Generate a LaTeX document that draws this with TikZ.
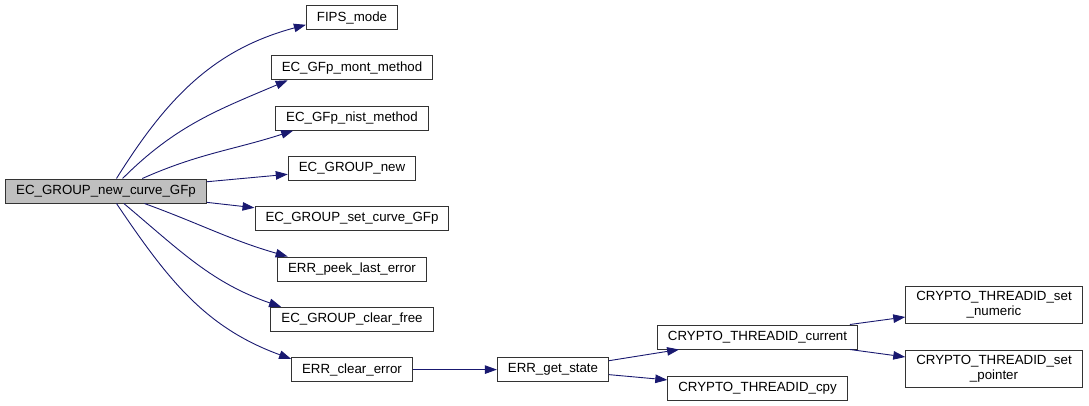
\documentclass[tikz,border=0pt]{standalone}
\usepackage{fontspec}
\setmainfont{Liberation Sans}
\usepackage{xcolor}
\usepackage{tikz}
\usetikzlibrary{positioning,arrows.meta}
\definecolor{midnight}{HTML}{191970}

\begin{document}
\begin{tikzpicture}[x=1pt, y=1pt, node distance=25.3pt,
    fn/.style={draw=black!80, line width=1pt, rectangle, minimum height=24pt, inner xsep=10.5pt, inner ysep=5pt, align=center, font=\fontsize{13.3}{15}\selectfont},
    call/.style={draw=midnight, line width=0.9pt, -{Triangle[length=12pt,width=8.5pt]}}]
    \useasboundingbox (0,0) rectangle (1089,-405);

    % caller on the left
    \node [fn, fill=black!25] (curvegfp) at (106,-191) {EC\_GROUP\_new\_curve\_GFp};

    % column of callees, one under the other
    \node [fn] (fips) at (352,-17.5) {FIPS\_mode};
    \node [fn, below=of fips] (mont) {EC\_GFp\_mont\_method};
    \node [fn, below=of mont] (nist) {EC\_GFp\_nist\_method};
    \node [fn, below=of nist] (groupnew) {EC\_GROUP\_new};
    \node [fn, below=of groupnew] (setcurve) {EC\_GROUP\_set\_curve\_GFp};
    \node [fn, below=of setcurve] (peek) {ERR\_peek\_last\_error};
    \node [fn, below=of peek] (clearfree) {EC\_GROUP\_clear\_free};
    \node [fn, below=of clearfree] (clearerr) {ERR\_clear\_error};

    % error state chain
    \node [fn, right=84pt of clearerr] (getstate) {ERR\_get\_state};
    \node [fn] (tidcur) at (757.5,-337) {CRYPTO\_THREADID\_current};
    \node [fn, below=26pt of tidcur] (tidcpy) {CRYPTO\_THREADID\_cpy};
    \node [fn] (tidnum) at (994,-305) {CRYPTO\_THREADID\_set\\\_numeric};
    \node [fn, below=26pt of tidnum] (tidptr) {CRYPTO\_THREADID\_set\\\_pointer};

    % calls from the caller
    \draw [call] (curvegfp.50) to[out=58, in=195] (fips.189);
    \draw [call] (curvegfp.37) to[out=45, in=203] (mont.191);
    \draw [call] (curvegfp.19) to[out=24, in=198] (nist.192);
    \draw [call] (curvegfp) -- (groupnew);
    \draw [call] (curvegfp) -- (setcurve);
    \draw [call] (curvegfp.-18) to[out=-20, in=164] (peek.169);
    \draw [call] (curvegfp.-35) to[out=-40, in=161] (clearfree.170);
    \draw [call] (curvegfp.-50) to[out=-56, in=160] (clearerr.170);

    % calls further down
    \draw [call] (clearerr) -- (getstate);
    \draw [call] (getstate) -- (tidcur);
    \draw [call] (getstate) -- (tidcpy);
    \draw [call] (tidcur) -- (tidnum);
    \draw [call] (tidcur) -- (tidptr);
\end{tikzpicture}
\end{document}
